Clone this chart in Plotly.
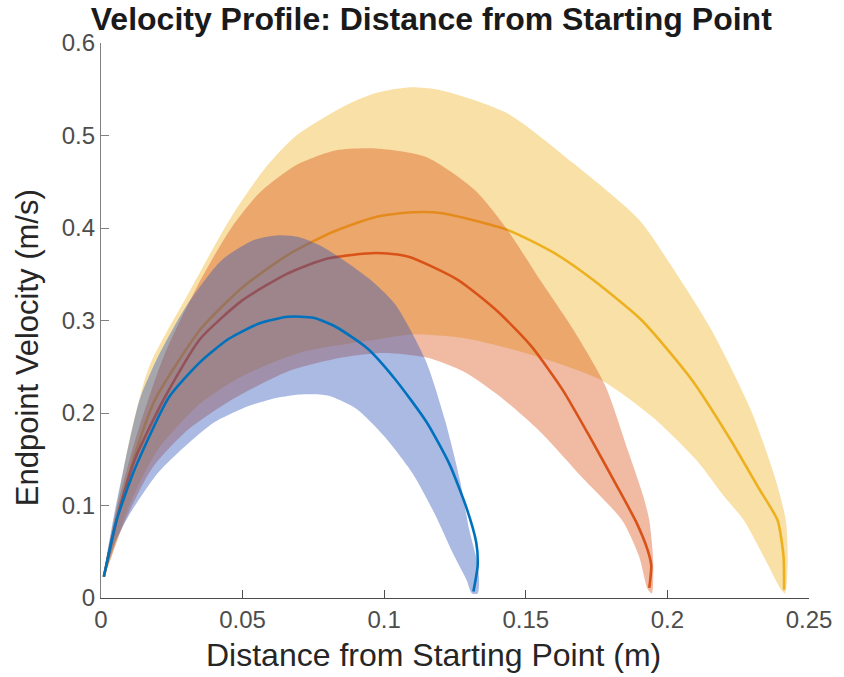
import plotly.graph_objects as go

# Mean velocity profiles (distance in m, velocity in m/s)
blue_mean_x = [0.001, 0.0055, 0.012, 0.024, 0.035, 0.045, 0.056, 0.066, 0.075, 0.083, 0.094, 0.104, 0.115, 0.123, 0.129, 0.1325, 0.133, 0.1315]
blue_mean_v = [0.023, 0.084, 0.14, 0.217, 0.255, 0.28, 0.297, 0.304, 0.303, 0.293, 0.27, 0.236, 0.19, 0.145, 0.098, 0.06, 0.035, 0.007]

red_mean_x = [0.001, 0.006, 0.012, 0.022, 0.035, 0.05, 0.066, 0.08, 0.097, 0.1086, 0.126, 0.14, 0.152, 0.163, 0.173, 0.182, 0.189, 0.193, 0.1943, 0.1936]
red_mean_v = [0.023, 0.09, 0.15, 0.214, 0.28, 0.322, 0.351, 0.367, 0.373, 0.369, 0.344, 0.31, 0.272, 0.225, 0.172, 0.122, 0.082, 0.052, 0.035, 0.011]

yellow_mean_x = [0.001, 0.006, 0.012, 0.019, 0.035, 0.05, 0.066, 0.082, 0.097, 0.110, 0.1205, 0.1435, 0.16, 0.1737, 0.191, 0.2086, 0.2225, 0.232, 0.2389, 0.241, 0.2412]
yellow_mean_v = [0.023, 0.09, 0.155, 0.214, 0.29, 0.336, 0.371, 0.396, 0.412, 0.417, 0.416, 0.398, 0.373, 0.344, 0.30, 0.236, 0.17, 0.12, 0.084, 0.045, 0.009]

# Upper / lower edges of the shaded spread around each mean
blue_upper_x = [0.001, 0.004, 0.008, 0.0136, 0.02, 0.03, 0.0425, 0.054, 0.062, 0.07, 0.078, 0.0867, 0.096, 0.104, 0.1146, 0.1215, 0.1267, 0.130, 0.1327, 0.1335, 0.133]
blue_upper_v = [0.023, 0.08, 0.14, 0.214, 0.26, 0.315, 0.365, 0.387, 0.392, 0.39, 0.38, 0.363, 0.342, 0.317, 0.257, 0.192, 0.128, 0.074, 0.041, 0.02, 0.005]
blue_lower_x = [0.001, 0.005, 0.01, 0.02, 0.03, 0.04, 0.05, 0.06, 0.07, 0.08, 0.09, 0.1, 0.11, 0.118, 0.124, 0.129, 0.131]
blue_lower_v = [0.023, 0.06, 0.09, 0.135, 0.165, 0.19, 0.205, 0.215, 0.22, 0.219, 0.205, 0.175, 0.135, 0.09, 0.05, 0.02, 0.005]

red_upper_x = [0.001, 0.005, 0.012, 0.022, 0.0345, 0.046, 0.056, 0.069, 0.083, 0.097, 0.1146, 0.132, 0.1435, 0.155, 0.1668, 0.178, 0.186, 0.1915, 0.1936, 0.195, 0.1945]
red_upper_v = [0.023, 0.09, 0.17, 0.26, 0.34, 0.40, 0.438, 0.468, 0.484, 0.486, 0.477, 0.441, 0.398, 0.344, 0.29, 0.23, 0.16, 0.11, 0.084, 0.04, 0.005]
red_lower_x = [0.001, 0.008, 0.018, 0.03, 0.046, 0.066, 0.085, 0.1, 0.115, 0.128, 0.14, 0.155, 0.17, 0.184, 0.19, 0.193]
red_lower_v = [0.023, 0.08, 0.14, 0.18, 0.214, 0.245, 0.26, 0.265, 0.26, 0.245, 0.22, 0.18, 0.13, 0.084, 0.045, 0.01]

yellow_upper_x = [0.001, 0.005, 0.01, 0.017, 0.031, 0.046, 0.058, 0.069, 0.0867, 0.097, 0.1086, 0.12, 0.1435, 0.1668, 0.19, 0.2016, 0.2155, 0.2295, 0.238, 0.2418, 0.2425, 0.2415]
yellow_upper_v = [0.023, 0.09, 0.17, 0.25, 0.33, 0.412, 0.465, 0.5, 0.533, 0.546, 0.552, 0.549, 0.524, 0.47, 0.409, 0.358, 0.29, 0.203, 0.13, 0.084, 0.04, 0.005]
yellow_lower_x = [0.001, 0.01, 0.02, 0.035, 0.05, 0.07, 0.094, 0.11, 0.13, 0.155, 0.177, 0.195, 0.21, 0.22, 0.227, 0.234, 0.24]
yellow_lower_v = [0.023, 0.1, 0.16, 0.21, 0.24, 0.265, 0.278, 0.285, 0.28, 0.26, 0.235, 0.195, 0.15, 0.11, 0.084, 0.045, 0.01]

x_ticks = [0, 0.05, 0.1, 0.15, 0.2, 0.25]
x_tick_text = ["0", "0.05", "0.1", "0.15", "0.2", "0.25"]
y_ticks = [0, 0.1, 0.2, 0.3, 0.4, 0.5, 0.6]
y_tick_text = ["0", "0.1", "0.2", "0.3", "0.4", "0.5", "0.6"]

series = [
    (yellow_upper_x, yellow_upper_v, yellow_lower_x, yellow_lower_v, yellow_mean_x, yellow_mean_v,
     "rgba(237,177,32,0.4)", "#EDB120"),
    (red_upper_x, red_upper_v, red_lower_x, red_lower_v, red_mean_x, red_mean_v,
     "rgba(217,83,25,0.4)", "#D95319"),
    (blue_upper_x, blue_upper_v, blue_lower_x, blue_lower_v, blue_mean_x, blue_mean_v,
     "rgba(43,83,185,0.4)", "#0072BD"),
]

FONT = "Liberation Sans, Arial, Helvetica, sans-serif"

fig = go.Figure()
for ux, uv, lx, lv, mx, mv, band_col, line_col in series:
    fig.add_trace(go.Scatter(
        x=ux + lx[::-1], y=uv + lv[::-1], mode="lines", fill="toself",
        fillcolor=band_col, line=dict(width=0, shape="spline", smoothing=0.7),
        hoverinfo="skip", showlegend=False))
    fig.add_trace(go.Scatter(
        x=mx, y=mv, mode="lines",
        line=dict(color=line_col, width=2.6, shape="spline", smoothing=0.6),
        showlegend=False))

tick_font = dict(family=FONT, size=24, color="#4d4d4d")

fig.update_layout(
    width=844, height=677,
    margin=dict(l=101, r=24, t=43, b=79),
    paper_bgcolor="white", plot_bgcolor="white",
    title=dict(text="<b>Velocity Profile: Distance from Starting Point</b>",
               x=0.511, xanchor="center", y=0.972, yanchor="middle", yref="container",
               font=dict(family=FONT, size=32, color="#1a1a1a")),
    xaxis=dict(range=[0, 0.25], tickvals=x_ticks, ticktext=x_tick_text, ticks="inside", ticklen=8,
               tickcolor="#4d4d4d", showline=True, linecolor="#4d4d4d", linewidth=1.3,
               showgrid=False, zeroline=False, tickfont=tick_font, mirror=False),
    yaxis=dict(range=[0, 0.6], tickvals=y_ticks, ticktext=y_tick_text, ticks="inside", ticklen=8,
               tickcolor="#808080", showline=True, linecolor="#808080", linewidth=1.3,
               showgrid=False, zeroline=False, tickfont=tick_font, mirror=False),
    annotations=[
        dict(text="Distance from Starting Point (m)", xref="paper", yref="paper", x=0.47, y=0,
             xanchor="center", yanchor="middle", yshift=-57, showarrow=False,
             font=dict(family=FONT, size=32, color="#262626")),
        dict(text="Endpoint Velocity (m/s)", xref="paper", yref="paper", x=0, y=0.45,
             xanchor="center", yanchor="middle", xshift=-74, textangle=-90, showarrow=False,
             font=dict(family=FONT, size=31, color="#262626")),
    ],
)

fig.write_html("out.html")
